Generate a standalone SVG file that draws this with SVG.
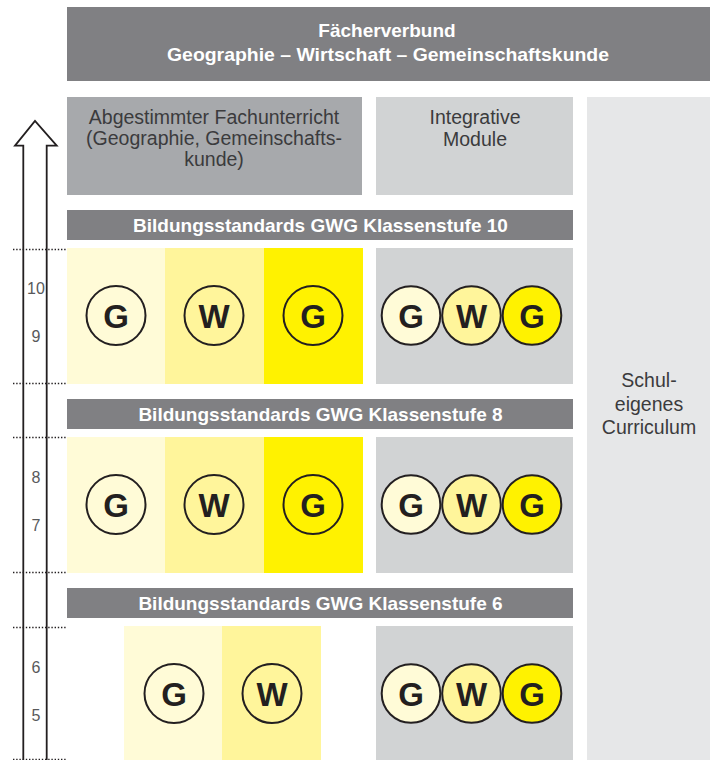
<svg xmlns="http://www.w3.org/2000/svg" width="715" height="760" viewBox="0 0 715 760">
<style>
.bar{fill:#808083}
.bt{font-family:"Liberation Sans",Arial,sans-serif;font-weight:bold;font-size:19px;fill:#fff;text-anchor:middle}
.ht{font-family:"Liberation Sans",Arial,sans-serif;font-weight:bold;font-size:19px;fill:#fff;text-anchor:middle}
.lt{font-family:"Liberation Sans",Arial,sans-serif;font-size:19.5px;fill:#3b3b3d;text-anchor:middle}
.num{font-family:"Liberation Sans",Arial,sans-serif;font-size:16px;fill:#58595b;text-anchor:middle}
.c1{fill:#fffbd7}.c2{fill:#fff59b}.c3{fill:#fff200}
.pan{fill:#d1d3d4}
.ring{stroke:#231f20;stroke-width:2}
.let{font-family:"Liberation Sans",Arial,sans-serif;font-weight:bold;font-size:33px;fill:#231f20;text-anchor:middle}
.dot{stroke:#231f20;stroke-width:1.5;stroke-dasharray:1.4 1.8}
</style>
<rect width="715" height="760" fill="#fff"/>
<g id="faecherverbund">
<rect class="bar" x="67" y="7" width="643" height="74"/>
<text class="ht" x="387" y="37">Fächerverbund</text>
<text class="ht" x="388" y="61" textLength="442" lengthAdjust="spacingAndGlyphs">Geographie – Wirtschaft – Gemeinschaftskunde</text>
</g>
<g id="fachunterricht">
<rect x="67" y="97" width="295" height="98" fill="#a7a9ac"/>
<text class="lt" x="214" y="124">Abgestimmter Fachunterricht</text>
<text class="lt" x="214" y="145">(Geographie, Gemeinschafts-</text>
<text class="lt" x="214" y="166">kunde)</text>
</g>
<g id="integrative">
<rect class="pan" x="376" y="97" width="197" height="98"/>
<text class="lt" x="475" y="124">Integrative</text>
<text class="lt" x="475" y="146">Module</text>
</g>
<g id="curriculum">
<rect x="587" y="97" width="123" height="663" fill="#e6e7e8"/>
<text class="lt" x="649" y="387">Schul-</text>
<text class="lt" x="649" y="411">eigenes</text>
<text class="lt" x="649" y="434">Curriculum</text>
</g>
<g id="bs10">
<rect class="bar" x="67" y="210" width="506" height="30"/>
<text class="bt" x="320.5" y="232">Bildungsstandards GWG Klassenstufe 10</text>
</g>
<g id="bs8">
<rect class="bar" x="67" y="399" width="506" height="30"/>
<text class="bt" x="320.5" y="421">Bildungsstandards GWG Klassenstufe 8</text>
</g>
<g id="bs6">
<rect class="bar" x="67" y="588" width="506" height="30"/>
<text class="bt" x="320.5" y="610">Bildungsstandards GWG Klassenstufe 6</text>
</g>
<g id="row10">
<rect class="c1" x="67" y="248" width="98" height="136"/>
<rect class="c2" x="165" y="248" width="99" height="136"/>
<rect class="c3" x="264" y="248" width="99" height="136"/>
<circle class="ring" cx="116" cy="315.5" r="29.5" fill="none"/>
<circle class="ring" cx="214" cy="315.5" r="29.5" fill="none"/>
<circle class="ring" cx="313" cy="315.5" r="29.5" fill="none"/>
<text class="let" x="116" y="327.5">G</text>
<text class="let" x="214" y="327.5">W</text>
<text class="let" x="313" y="327.5">G</text>
<rect class="pan" x="376" y="248" width="197" height="136"/>
<circle class="ring c1" cx="411" cy="315.5" r="29.3"/>
<circle class="ring c2" cx="471.5" cy="315.5" r="29.3"/>
<circle class="ring c3" cx="532" cy="315.5" r="29.3"/>
<text class="let" x="411" y="327.5">G</text>
<text class="let" x="471.5" y="327.5">W</text>
<text class="let" x="532" y="327.5">G</text>
</g>
<g id="row8">
<rect class="c1" x="67" y="437" width="98" height="136"/>
<rect class="c2" x="165" y="437" width="99" height="136"/>
<rect class="c3" x="264" y="437" width="99" height="136"/>
<circle class="ring" cx="116" cy="504.5" r="29.5" fill="none"/>
<circle class="ring" cx="214" cy="504.5" r="29.5" fill="none"/>
<circle class="ring" cx="313" cy="504.5" r="29.5" fill="none"/>
<text class="let" x="116" y="516.5">G</text>
<text class="let" x="214" y="516.5">W</text>
<text class="let" x="313" y="516.5">G</text>
<rect class="pan" x="376" y="437" width="197" height="136"/>
<circle class="ring c1" cx="411" cy="504.5" r="29.3"/>
<circle class="ring c2" cx="471.5" cy="504.5" r="29.3"/>
<circle class="ring c3" cx="532" cy="504.5" r="29.3"/>
<text class="let" x="411" y="516.5">G</text>
<text class="let" x="471.5" y="516.5">W</text>
<text class="let" x="532" y="516.5">G</text>
</g>
<g id="row6">
<rect class="c1" x="124" y="626" width="98" height="134"/>
<rect class="c2" x="222" y="626" width="99" height="134"/>
<circle class="ring" cx="174" cy="693.5" r="29.5" fill="none"/>
<circle class="ring" cx="272" cy="693.5" r="29.5" fill="none"/>
<text class="let" x="174" y="705.5">G</text>
<text class="let" x="272" y="705.5">W</text>
<rect class="pan" x="376" y="626" width="197" height="134"/>
<circle class="ring c1" cx="411" cy="693.5" r="29.3"/>
<circle class="ring c2" cx="471.5" cy="693.5" r="29.3"/>
<circle class="ring c3" cx="532" cy="693.5" r="29.3"/>
<text class="let" x="411" y="705.5">G</text>
<text class="let" x="471.5" y="705.5">W</text>
<text class="let" x="532" y="705.5">G</text>
</g>
<g id="connectors">
<path d="M23.3 762 V145.7 H15 L35 121 L56.7 145.7 H46.7 V762" fill="none" stroke="#231f20" stroke-width="1.8" stroke-linejoin="miter"/>
<line class="dot" x1="13" y1="249.5" x2="66" y2="249.5"/>
<line class="dot" x1="13" y1="383.5" x2="66" y2="383.5"/>
<line class="dot" x1="13" y1="437.5" x2="66" y2="437.5"/>
<line class="dot" x1="13" y1="572.5" x2="66" y2="572.5"/>
<line class="dot" x1="13" y1="627.5" x2="66" y2="627.5"/>
<line class="dot" x1="13" y1="759.5" x2="66" y2="759.5"/>
</g>
<g id="grades">
<text class="num" x="36" y="294">10</text>
<text class="num" x="36" y="342">9</text>
<text class="num" x="36" y="483">8</text>
<text class="num" x="36" y="531">7</text>
<text class="num" x="36" y="673">6</text>
<text class="num" x="36" y="721">5</text>
</g>
</svg>
